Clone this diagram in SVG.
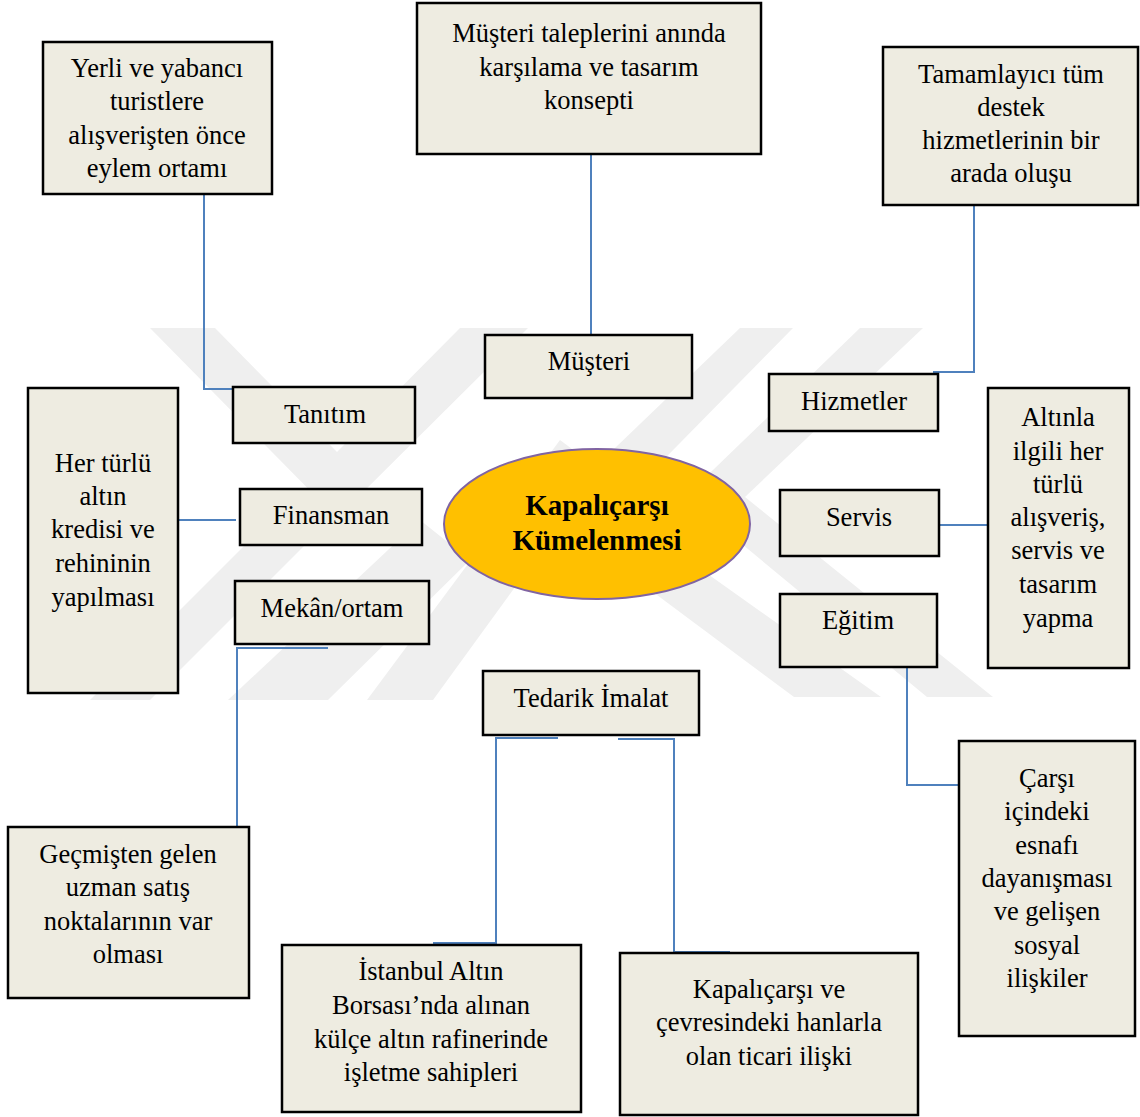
<svg xmlns="http://www.w3.org/2000/svg" width="1140" height="1117" viewBox="0 0 1140 1117">
<style>
.box{fill:#EEECE1;stroke:#000;stroke-width:2.5}
.t{font-family:"Liberation Serif","Times New Roman",serif;font-size:26.5px;fill:#000;text-anchor:middle}
.tb{font-family:"Liberation Serif","Times New Roman",serif;font-size:29px;font-weight:bold;fill:#000;text-anchor:middle}
.c{fill:none;stroke:#4F81BD;stroke-width:2}
.wm{fill:#efefef}
</style>
<rect width="1140" height="1117" fill="#fff"/>
<g id="watermark">
<polygon class="wm" points="150,328 215,328 337,452 460,328 528,328 337,518"/>
<polygon class="wm" points="90,700 150,700 310,540 280,510"/>
<polygon class="wm" points="228,700 328,700 470,560 420,520"/>
<polygon class="wm" points="367,700 433,700 600,470 560,440"/>
<polygon class="wm" points="740,328 793,328 565,560 540,520"/>
<polygon class="wm" points="860,328 923,328 745,497 993,697 927,697 685,497"/>
<polygon class="wm" points="610,560 660,540 881,697 794,697"/>
</g>
<g id="connectors">
<polyline class="c" points="122,194 204,194 204,389 285,389"/>
<polyline class="c" points="591,154 591,338"/>
<polyline class="c" points="1014,205 974,205 974,372 933,372"/>
<polyline class="c" points="178,520 236,520"/>
<polyline class="c" points="939,525 992,525"/>
<polyline class="c" points="328,648 237,648 237,831 147,831"/>
<polyline class="c" points="558,738 496,738 496,943 433,943"/>
<polyline class="c" points="618,739 674,739 674,952 730,952"/>
<polyline class="c" points="855,667 907,667 907,785 960,785"/>
</g>
<g id="n-yerli">
<rect class="box" x="43" y="42" width="229" height="152"/>
<text class="t"><tspan x="157" y="77">Yerli ve yabancı</tspan><tspan x="157" y="110">turistlere</tspan><tspan x="157" y="144">alışverişten önce</tspan><tspan x="157" y="177">eylem ortamı</tspan></text>
</g>
<g id="n-musteri-talep">
<rect class="box" x="417" y="3" width="344" height="151"/>
<text class="t"><tspan x="589" y="42">Müşteri taleplerini anında</tspan><tspan x="589" y="76">karşılama ve tasarım</tspan><tspan x="589" y="109">konsepti</tspan></text>
</g>
<g id="n-tamamlayici">
<rect class="box" x="883" y="47" width="255" height="158"/>
<text class="t"><tspan x="1011" y="83">Tamamlayıcı tüm</tspan><tspan x="1011" y="116">destek</tspan><tspan x="1011" y="149">hizmetlerinin bir</tspan><tspan x="1011" y="182">arada oluşu</tspan></text>
</g>
<g id="n-musteri">
<rect class="box" x="485" y="335" width="207" height="63"/>
<text class="t" x="589" y="370">Müşteri</text>
</g>
<g id="n-tanitim">
<rect class="box" x="233" y="387" width="182" height="56"/>
<text class="t" x="325" y="423">Tanıtım</text>
</g>
<g id="n-hizmetler">
<rect class="box" x="769" y="374" width="169" height="57"/>
<text class="t" x="854" y="410">Hizmetler</text>
</g>
<g id="n-herturlu">
<rect class="box" x="28" y="388" width="150" height="305"/>
<text class="t"><tspan x="103" y="472">Her türlü</tspan><tspan x="103" y="505">altın</tspan><tspan x="103" y="538">kredisi ve</tspan><tspan x="103" y="572">rehininin</tspan><tspan x="103" y="606">yapılması</tspan></text>
</g>
<g id="n-finansman">
<rect class="box" x="240" y="489" width="182" height="56"/>
<text class="t" x="331" y="524">Finansman</text>
</g>
<g id="n-center">
<ellipse cx="597" cy="524" rx="153" ry="75" fill="#FFC000" stroke="#8064A2" stroke-width="2"/>
<text class="tb"><tspan x="597" y="515">Kapalıçarşı</tspan><tspan x="597" y="550">Kümelenmesi</tspan></text>
</g>
<g id="n-servis">
<rect class="box" x="780" y="490" width="159" height="66"/>
<text class="t" x="859" y="526">Servis</text>
</g>
<g id="n-altinla">
<rect class="box" x="988" y="388" width="141" height="280"/>
<text class="t"><tspan x="1058" y="426">Altınla</tspan><tspan x="1058" y="460">ilgili her</tspan><tspan x="1058" y="493">türlü</tspan><tspan x="1058" y="526">alışveriş,</tspan><tspan x="1058" y="559">servis ve</tspan><tspan x="1058" y="593">tasarım</tspan><tspan x="1058" y="627">yapma</tspan></text>
</g>
<g id="n-mekan">
<rect class="box" x="235" y="581" width="194" height="63"/>
<text class="t" x="332" y="617">Mekân/ortam</text>
</g>
<g id="n-egitim">
<rect class="box" x="780" y="594" width="157" height="73"/>
<text class="t" x="858" y="629">Eğitim</text>
</g>
<g id="n-tedarik">
<rect class="box" x="483" y="671" width="216" height="64"/>
<text class="t" x="591" y="707">Tedarik İmalat</text>
</g>
<g id="n-gecmisten">
<rect class="box" x="8" y="827" width="241" height="171"/>
<text class="t"><tspan x="128" y="863">Geçmişten gelen</tspan><tspan x="128" y="896">uzman satış</tspan><tspan x="128" y="930">noktalarının var</tspan><tspan x="128" y="963">olması</tspan></text>
</g>
<g id="n-istanbul">
<rect class="box" x="282" y="945" width="299" height="167"/>
<text class="t"><tspan x="431" y="980">İstanbul Altın</tspan><tspan x="431" y="1014">Borsası’nda alınan</tspan><tspan x="431" y="1048">külçe altın rafinerinde</tspan><tspan x="431" y="1081">işletme sahipleri</tspan></text>
</g>
<g id="n-kapalicarsi-ve">
<rect class="box" x="620" y="953" width="298" height="162"/>
<text class="t"><tspan x="769" y="998">Kapalıçarşı ve</tspan><tspan x="769" y="1031">çevresindeki hanlarla</tspan><tspan x="769" y="1065">olan ticari ilişki</tspan></text>
</g>
<g id="n-carsi">
<rect class="box" x="959" y="741" width="176" height="295"/>
<text class="t"><tspan x="1047" y="787">Çarşı</tspan><tspan x="1047" y="820">içindeki</tspan><tspan x="1047" y="854">esnafı</tspan><tspan x="1047" y="887">dayanışması</tspan><tspan x="1047" y="920">ve gelişen</tspan><tspan x="1047" y="954">sosyal</tspan><tspan x="1047" y="987">ilişkiler</tspan></text>
</g>
</svg>
